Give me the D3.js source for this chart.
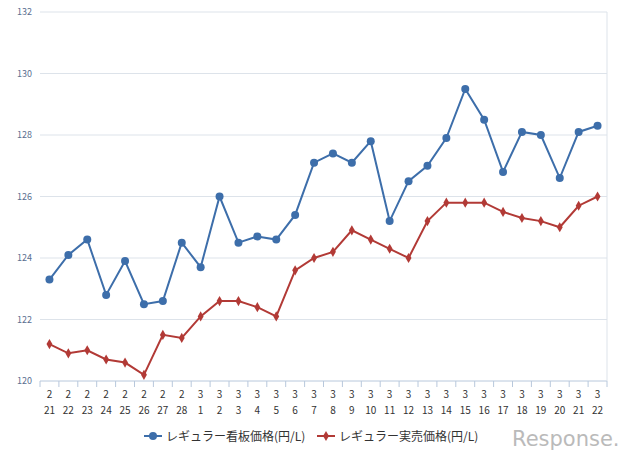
<!DOCTYPE html>
<html><head><meta charset="utf-8">
<script src="https://cdn.jsdelivr.net/npm/d3@7"></script>
<style>body{margin:0;background:#fff}</style></head>
<body><svg id="c" width="640" height="460"></svg>
<script>
const months=["2","2","2","2","2","2","2","2","3","3","3","3","3","3","3","3","3","3","3","3","3","3","3","3","3","3","3","3","3","3"];
const days=["21","22","23","24","25","26","27","28","1","2","3","4","5","6","7","8","9","10","11","12","13","14","15","16","17","18","19","20","21","22"];
const kanban=[123.3,124.1,124.6,122.8,123.9,122.5,122.6,124.5,123.7,126.0,124.5,124.7,124.6,125.4,127.1,127.4,127.1,127.8,125.2,126.5,127.0,127.9,129.5,128.5,126.8,128.1,128.0,126.6,128.1,128.3];
const jitsubai=[121.2,120.9,121.0,120.7,120.6,120.2,121.5,121.4,122.1,122.6,122.6,122.4,122.1,123.6,124.0,124.2,124.9,124.6,124.3,124.0,125.2,125.8,125.8,125.8,125.5,125.3,125.2,125.0,125.7,126.0];
const yTicks=[120,122,124,126,128,130,132];
const names=["レギュラー看板価格(円/L)","レギュラー実売価格(円/L)"];
const colors=["#3d6eaa","#b23a36"];
const svg=d3.select("#c");
const L=40,R=607,T=12,B=381;
const idx=d3.range(days.length);
const x=d3.scaleBand().domain(idx).range([L,R]);
const y=d3.scaleLinear().domain([120,132]).range([B,T]);
const font="Noto Sans CJK JP, DejaVu Sans, sans-serif";
svg.append("g").selectAll("line").data(yTicks).join("line")
 .attr("x1",L).attr("x2",R).attr("y1",d=>y(d)).attr("y2",d=>y(d))
 .attr("stroke",d=>d===120?"#b8c8dc":"#dde3ea").attr("stroke-width",1);
svg.append("line").attr("x1",R).attr("x2",R).attr("y1",T).attr("y2",B).attr("stroke","#dde3ea");
svg.append("g").selectAll("text").data(yTicks).join("text")
 .attr("x",L-8).attr("y",d=>y(d)+3).attr("text-anchor","end")
 .attr("font-size",9).attr("font-family",font).attr("fill","#5a7090").text(d=>d);
svg.append("g").selectAll("line").data(d3.range(days.length+1)).join("line")
 .attr("x1",i=>L+i*x.step()).attr("x2",i=>L+i*x.step()).attr("y1",B).attr("y2",B+6).attr("stroke","#b8c8dc");
const lab=svg.append("g").attr("font-size",10).attr("font-family",font).attr("fill","#333").attr("text-anchor","middle");
lab.selectAll(".m").data(idx).join("text").attr("x",i=>x(i)+x.bandwidth()/2).attr("y",398).text(i=>months[i]);
lab.selectAll(".d").data(idx).join("text").attr("x",i=>x(i)+x.bandwidth()/2).attr("y",414).text(i=>days[i]);
const line=d3.line().x((d,i)=>x(i)+x.bandwidth()/2).y(d=>y(d));
[kanban,jitsubai].forEach((s,k)=>{
 svg.append("path").datum(s).attr("d",line).attr("fill","none").attr("stroke",colors[k]).attr("stroke-width",2);
 const g=svg.append("g").attr("fill",colors[k]);
 if(k===0) g.selectAll("circle").data(s).join("circle").attr("cx",(d,i)=>x(i)+x.bandwidth()/2).attr("cy",d=>y(d)).attr("r",4);
 else g.selectAll("path").data(s).join("path").attr("d",d3.symbol(d3.symbolDiamond,30)).attr("transform",(d,i)=>`translate(${x(i)+x.bandwidth()/2},${y(d)})`);
});
const leg=[{x:144},{x:317}];
leg.forEach((l,k)=>{
 svg.append("line").attr("x1",l.x).attr("x2",l.x+18).attr("y1",436).attr("y2",436).attr("stroke",colors[k]).attr("stroke-width",2);
 if(k===0) svg.append("circle").attr("cx",l.x+9).attr("cy",436).attr("r",4).attr("fill",colors[k]);
 else svg.append("path").attr("d",d3.symbol(d3.symbolDiamond,30)).attr("transform",`translate(${l.x+9},436)`).attr("fill",colors[k]);
 svg.append("text").attr("x",l.x+22).attr("y",441).attr("font-size",12).attr("font-family",font).attr("fill","#333").text(names[k]);
});
svg.append("text").attr("x",512).attr("y",446).attr("font-size",21).attr("font-family","DejaVu Sans, sans-serif").attr("fill","#aaa").attr("opacity",0.8).text("Response.");
</script></body></html>
